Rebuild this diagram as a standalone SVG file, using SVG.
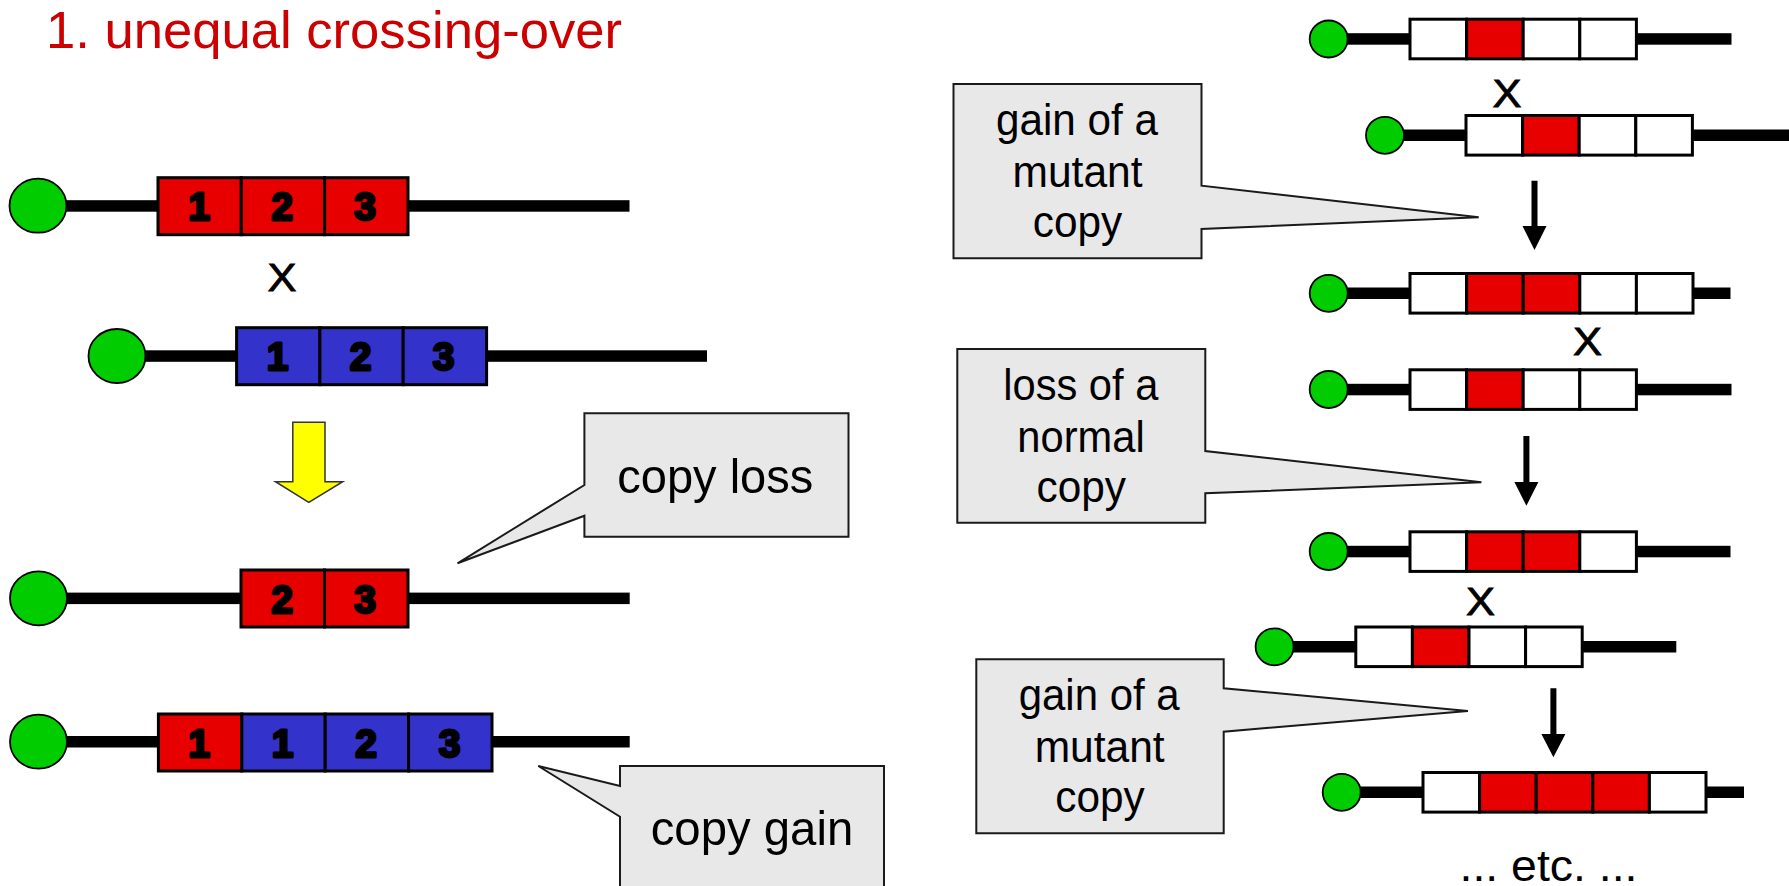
<svg xmlns="http://www.w3.org/2000/svg" width="1789" height="886" viewBox="0 0 1789 886">
<style>
.bg{fill:#ffffff}
.title{font-family:"Liberation Sans",Arial,sans-serif;font-size:52px;fill:#cc0000}
.ln{fill:#000000}
.cen{fill:#00cc00;stroke:#000000;stroke-width:1.8}
.r{fill:#e60000;stroke:#000000;stroke-width:3}
.b{fill:#3333cc;stroke:#000000;stroke-width:3}
.w{fill:#ffffff;stroke:#000000;stroke-width:3}
.dg{font-family:"Liberation Sans",Arial,sans-serif;font-size:39px;font-weight:bold;fill:#000000;stroke:#000000;stroke-width:2.8;stroke-linejoin:round;text-anchor:middle}
.x{font-family:"Liberation Sans",Arial,sans-serif;font-size:39px;fill:#000000;stroke:#000000;stroke-width:0.8;text-anchor:middle}
.co{fill:#e8e8e8;stroke:#1a1a1a;stroke-width:2;stroke-linejoin:miter}
.ct{font-family:"Liberation Sans",Arial,sans-serif;fill:#000000;text-anchor:middle}
.big{font-size:49px}
.sm{font-size:44px}
.arr{fill:#000000}
.yarr{fill:#ffff00;stroke:#333333;stroke-width:1.5}
</style>
<rect class="bg" x="0" y="0" width="1789" height="886"/>
<text id="title" class="title" x="46" y="47.5" textLength="576" lengthAdjust="spacingAndGlyphs">1. unequal crossing-over</text>

<!-- LEFT SIDE -->
<g id="L1">
<rect class="ln" x="38" y="200.2" width="591.5" height="11.5"/>
<ellipse class="cen" cx="38" cy="205.7" rx="28.5" ry="27"/>
<rect class="r" x="158" y="177.7" width="83.3" height="57"/>
<rect class="r" x="241.3" y="177.7" width="83.3" height="57"/>
<rect class="r" x="324.6" y="177.7" width="83.4" height="57"/>
<text class="dg" x="199" y="220">1</text>
<text class="dg" x="282" y="220">2</text>
<text class="dg" x="365" y="220">3</text>
</g>
<text id="xL" class="x" x="282" y="290.7" textLength="29" lengthAdjust="spacingAndGlyphs">X</text>
<g id="L2">
<rect class="ln" x="117" y="350.3" width="590" height="11.5"/>
<ellipse class="cen" cx="117" cy="356" rx="28.5" ry="27"/>
<rect class="b" x="236.6" y="327.7" width="83.3" height="57"/>
<rect class="b" x="319.9" y="327.7" width="83.3" height="57"/>
<rect class="b" x="403.2" y="327.7" width="83.4" height="57"/>
<text class="dg" x="277.5" y="370">1</text>
<text class="dg" x="360.5" y="370">2</text>
<text class="dg" x="443.5" y="370">3</text>
</g>
<g id="L3">
<rect class="ln" x="38.5" y="592.6" width="591.2" height="11.5"/>
<ellipse class="cen" cx="38.5" cy="598.3" rx="28.5" ry="27"/>
<rect class="r" x="241" y="570" width="83.5" height="57"/>
<rect class="r" x="324.5" y="570" width="83.5" height="57"/>
<text class="dg" x="282" y="612.5">2</text>
<text class="dg" x="365" y="612.5">3</text>
</g>
<g id="L4">
<rect class="ln" x="38.5" y="736" width="591.2" height="11.5"/>
<ellipse class="cen" cx="38.5" cy="741.7" rx="28.5" ry="27"/>
<rect class="r" x="158.4" y="714" width="83.4" height="57"/>
<rect class="b" x="241.8" y="714" width="83.4" height="57"/>
<rect class="b" x="325.2" y="714" width="83.4" height="57"/>
<rect class="b" x="408.6" y="714" width="83.4" height="57"/>
<text class="dg" x="199" y="756.5">1</text>
<text class="dg" x="282.5" y="756.5">1</text>
<text class="dg" x="366" y="756.5">2</text>
<text class="dg" x="449.5" y="756.5">3</text>
</g>
<g id="callout-copy-loss">
<path class="co" d="M584.4,413.3 H848.5 V536.7 H584.4 V515.7 L457.5,563.3 L584.4,485 Z"/>
<text class="ct big" x="715.3" y="493.3" textLength="196" lengthAdjust="spacingAndGlyphs">copy loss</text>
</g>
<g id="callout-copy-gain">
<path class="co" d="M620,766 H884 V900 H620 V816.7 L538.3,766 L620,786 Z"/>
<text class="ct big" x="752" y="845" textLength="202.6" lengthAdjust="spacingAndGlyphs">copy gain</text>
</g>

<!-- RIGHT SIDE -->
<g id="R1">
<rect class="ln" x="1329" y="33.2" width="402.5" height="11.5"/>
<ellipse class="cen" cx="1328.7" cy="39" rx="19" ry="18.5"/>
<rect class="w" x="1410" y="19.2" width="56.6" height="39.6"/>
<rect class="r" x="1466.6" y="19.2" width="56.6" height="39.6"/>
<rect class="w" x="1523.2" y="19.2" width="56.6" height="39.6"/>
<rect class="w" x="1579.8" y="19.2" width="56.6" height="39.6"/>
</g>
<text id="xR1" class="x" x="1507" y="106.5" textLength="29" lengthAdjust="spacingAndGlyphs">X</text>
<g id="R2">
<rect class="ln" x="1385" y="129.5" width="404" height="11.5"/>
<ellipse class="cen" cx="1385" cy="135.3" rx="19" ry="18.5"/>
<rect class="w" x="1466" y="115.5" width="56.6" height="39.6"/>
<rect class="r" x="1522.6" y="115.5" width="56.6" height="39.6"/>
<rect class="w" x="1579.2" y="115.5" width="56.6" height="39.6"/>
<rect class="w" x="1635.8" y="115.5" width="56.6" height="39.6"/>
</g>
<g id="callout-gain-1">
<path class="co" d="M953.5,84 H1201.5 V185.7 L1478.7,217.3 L1201.5,229 V258.3 H953.5 Z"/>
<text class="ct sm" x="1077" y="135" textLength="162" lengthAdjust="spacingAndGlyphs">gain of a</text>
<text class="ct sm" x="1077.5" y="186.7" textLength="130" lengthAdjust="spacingAndGlyphs">mutant</text>
<text class="ct sm" x="1077.5" y="237" textLength="89.5" lengthAdjust="spacingAndGlyphs">copy</text>
</g>
<g id="R3">
<rect class="ln" x="1329" y="287.5" width="401.5" height="11.5"/>
<ellipse class="cen" cx="1328.7" cy="293.3" rx="19" ry="18.5"/>
<rect class="w" x="1410" y="273.5" width="56.6" height="39.6"/>
<rect class="r" x="1466.6" y="273.5" width="56.6" height="39.6"/>
<rect class="r" x="1523.2" y="273.5" width="56.6" height="39.6"/>
<rect class="w" x="1579.8" y="273.5" width="56.6" height="39.6"/>
<rect class="w" x="1636.4" y="273.5" width="56.6" height="39.6"/>
</g>
<text id="xR2" class="x" x="1587.5" y="354.5" textLength="29" lengthAdjust="spacingAndGlyphs">X</text>
<g id="R4">
<rect class="ln" x="1329" y="383.8" width="402.5" height="11.5"/>
<ellipse class="cen" cx="1328.7" cy="389.5" rx="19" ry="18.5"/>
<rect class="w" x="1410" y="369.8" width="56.6" height="39.6"/>
<rect class="r" x="1466.6" y="369.8" width="56.6" height="39.6"/>
<rect class="w" x="1523.2" y="369.8" width="56.6" height="39.6"/>
<rect class="w" x="1579.8" y="369.8" width="56.6" height="39.6"/>
</g>
<g id="callout-loss">
<path class="co" d="M957.3,349 H1205.3 V451 L1481.4,482.3 L1205.3,493.3 V522.7 H957.3 Z"/>
<text class="ct sm" x="1080.8" y="400" textLength="155" lengthAdjust="spacingAndGlyphs">loss of a</text>
<text class="ct sm" x="1081" y="451.7" textLength="127.3" lengthAdjust="spacingAndGlyphs">normal</text>
<text class="ct sm" x="1081.3" y="502.3" textLength="89.5" lengthAdjust="spacingAndGlyphs">copy</text>
</g>
<g id="R5">
<rect class="ln" x="1329" y="545.8" width="401.5" height="11.5"/>
<ellipse class="cen" cx="1328.7" cy="551.5" rx="19" ry="18.5"/>
<rect class="w" x="1410" y="531.8" width="56.6" height="39.6"/>
<rect class="r" x="1466.6" y="531.8" width="56.6" height="39.6"/>
<rect class="r" x="1523.2" y="531.8" width="56.6" height="39.6"/>
<rect class="w" x="1579.8" y="531.8" width="56.6" height="39.6"/>
</g>
<text id="xR3" class="x" x="1480.5" y="614.5" textLength="29" lengthAdjust="spacingAndGlyphs">X</text>
<g id="R6">
<rect class="ln" x="1275" y="641" width="401.3" height="11.5"/>
<ellipse class="cen" cx="1274.6" cy="646.8" rx="19" ry="18.5"/>
<rect class="w" x="1355.8" y="627" width="56.6" height="39.6"/>
<rect class="r" x="1412.4" y="627" width="56.6" height="39.6"/>
<rect class="w" x="1469" y="627" width="56.6" height="39.6"/>
<rect class="w" x="1525.6" y="627" width="56.6" height="39.6"/>
</g>
<g id="callout-gain-2">
<path class="co" d="M976.3,659.3 H1223.7 V688.3 L1467.9,711 L1223.7,731.7 V833.3 H976.3 Z"/>
<text class="ct sm" x="1099.2" y="710" textLength="161" lengthAdjust="spacingAndGlyphs">gain of a</text>
<text class="ct sm" x="1099.7" y="762.3" textLength="130" lengthAdjust="spacingAndGlyphs">mutant</text>
<text class="ct sm" x="1100" y="812" textLength="89.4" lengthAdjust="spacingAndGlyphs">copy</text>
</g>
<g id="R7">
<rect class="ln" x="1342" y="786.5" width="402" height="11.5"/>
<ellipse class="cen" cx="1341.7" cy="792.3" rx="19" ry="18.5"/>
<rect class="w" x="1423" y="772.5" width="56.6" height="39.6"/>
<rect class="r" x="1479.6" y="772.5" width="56.6" height="39.6"/>
<rect class="r" x="1536.2" y="772.5" width="56.6" height="39.6"/>
<rect class="r" x="1592.8" y="772.5" width="56.6" height="39.6"/>
<rect class="w" x="1649.4" y="772.5" width="56.6" height="39.6"/>
</g>
<text id="etc" class="ct sm" x="1548.5" y="880.5" textLength="178" lengthAdjust="spacingAndGlyphs">... etc. ...</text>

<g id="connectors">
<path class="yarr" d="M292.8,422.3 H325 V481.7 H342.7 L308.8,502.3 L275.5,481.7 H292.8 Z"/>
<path class="arr" d="M1531.5,180.7 H1537.5 V226 H1546.5 L1534.5,250 L1522.5,226 H1531.5 Z"/>
<path class="arr" d="M1523.4,436 H1529.4 V482 H1538.4 L1526.4,505.7 L1514.4,482 H1523.4 Z"/>
<path class="arr" d="M1550.4,688.3 H1556.4 V734 H1565.4 L1553.4,757.3 L1541.4,734 H1550.4 Z"/>
</g>
</svg>
